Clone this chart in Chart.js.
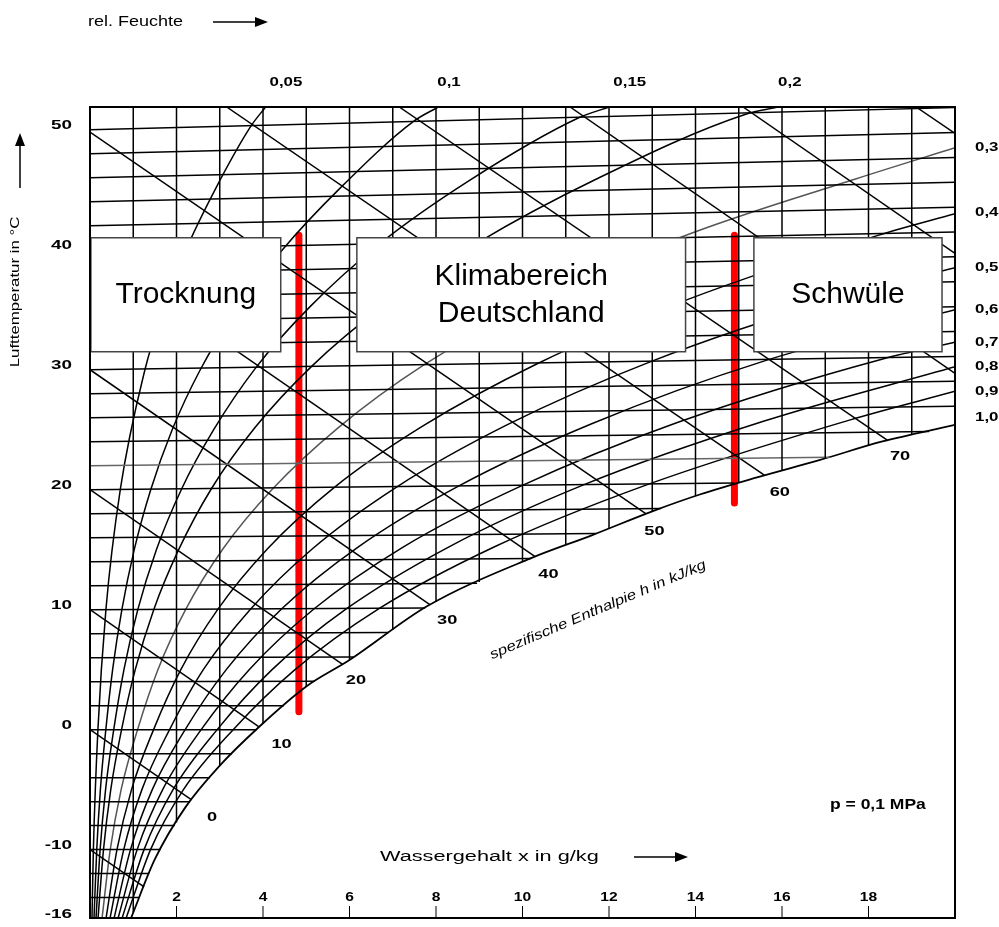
<!DOCTYPE html>
<html>
<head>
<meta charset="utf-8">
<script src="https://cdn.jsdelivr.net/npm/chart.js@4.4.1/dist/chart.umd.min.js"></script>
<style>
  html, body { margin: 0; padding: 0; background: #fff; }
  #wrap { width: 999px; height: 927px; }
</style>
</head>
<body>
<div id="wrap"><canvas id="hx"></canvas></div>
<script>
// axis range: water content x in g/kg, temperature in °C
const xMin = 0, xMax = 20;
const yMin = -15.7, yMax = 51.9;

const yTickValues = [-15.7, -10, 0, 10, 20, 30, 40, 50];
const yTickLabels = ['-16', '-10', '0', '10', '20', '30', '40', '50'];
const xTickValues = [2, 4, 6, 8, 10, 12, 14, 16, 18];

// saturation line (phi = 1.0) as [x, T]
const saturation = [[0.95, -15.7], [1.5, -10.8], [2.2, -6.5], [3.0, -3], [3.9, 0.2], [5.0, 3.6], [6.0, 5.8],
  [7.8, 10.3], [10.2, 14.3], [11.6, 16.2], [13.0, 18.2], [14.1, 19.6], [15.4, 21.0], [16.9, 22.5], [18.3, 24.0], [20, 25.4]];

// relative humidity lines
const rh005 = [[0.046, -15.7], [0.078, -10], [0.183, 0], [0.368, 10], [0.70, 20], [1.27, 30], [1.69, 35], [2.22, 40], [2.89, 45], [3.72, 50.3], [4.06, 51.9]];
const rh01 = [[0.093, -15.7], [0.156, -10], [0.24, -5], [0.366, 0], [0.523, 5], [0.737, 10], [1.023, 15], [1.404, 20], [1.90, 25], [2.55, 30], [3.39, 35], [4.45, 40], [5.80, 45.2], [7.48, 50.7], [8.05, 51.9]];
const rh015 = [[0.139, -15.7], [0.234, -10], [0.36, -5], [0.549, 0], [0.785, 5], [1.105, 10], [1.535, 15], [2.11, 20], [2.86, 25], [3.84, 30.2], [5.10, 35.3], [6.70, 40.5], [8.74, 45.7], [11.30, 51.0], [12.0, 51.9]];
const rh02 = [[0.186, -15.7], [0.312, -10], [0.48, -5], [0.73, 0], [1.046, 5], [1.474, 10], [2.05, 15], [2.81, 20.1], [3.82, 25.2], [5.13, 30.3], [6.81, 35.4], [8.97, 40.6], [11.71, 45.9], [15.16, 51.3], [15.9, 51.9]];
const rh03 = [[0.279, -15.7], [0.468, -10], [0.72, -5], [1.10, 0], [1.57, 5], [2.21, 10], [3.08, 15.1], [4.23, 20.1], [5.75, 25.2], [7.72, 30.4], [10.28, 35.6], [13.56, 40.9], [17.7, 45.9], [20, 48.5]];
const rh04 = [[0.372, -15.7], [0.624, -10], [0.96, -5], [1.47, 0], [2.10, 5], [2.95, 10], [4.11, 15.1], [5.65, 20.2], [7.69, 25.3], [10.34, 30.5], [13.78, 35.8], [18.22, 41.2], [20, 43.0]];
const rh05 = [[0.464, -15.7], [0.78, -10], [1.20, -5], [1.84, 0], [2.62, 5], [3.70, 10], [5.15, 15.1], [7.08, 20.2], [9.64, 25.4], [12.98, 30.7], [17.33, 36.0], [20, 38.5]];
const rh06 = [[0.557, -15.7], [0.936, -10], [1.44, -5], [2.20, 0], [3.15, 5], [4.44, 10.1], [6.19, 15.2], [8.52, 20.3], [11.60, 25.5], [15.65, 30.8], [20, 35.0]];
const rh07 = [[0.65, -15.7], [1.09, -10], [1.68, -5], [2.57, 0], [3.68, 5], [5.19, 10.1], [7.23, 15.2], [9.96, 20.3], [13.58, 25.6], [18.33, 30.9], [20, 32.3]];
const rh08 = [[0.743, -15.7], [1.25, -10], [1.92, -5], [2.94, 0], [4.21, 5], [5.94, 10.1], [8.28, 15.2], [11.41, 20.4], [15.57, 25.7], [20, 30.25]];
const rh09 = [[0.836, -15.7], [1.40, -10], [2.16, -5], [3.31, 0], [4.74, 5], [6.69, 10.1], [9.33, 15.2], [12.87, 20.4], [17.56, 25.8], [20, 28.2]];

// labels of the humidity lines: along the top (x) and on the right (T)
const topLabels = ['0,05', '0,1', '0,15', '0,2'];
const topLabelX = [4.53, 8.3, 12.48, 16.18];
const rightLabels = ['0,3', '0,4', '0,5', '0,6', '0,7', '0,8', '0,9', '1,0'];
const rightLabelT = [48.5, 43.1, 38.5, 35.0, 32.3, 30.25, 28.2, 26.0];

// isotherms every 2 °C, start at x = 0, end at saturation or right edge
const isoT = [-14, -12, -10, -8, -6, -4, -2, 0, 2, 4, 6, 8, 10, 12, 14, 16, 18, 20, 22, 24, 26, 28, 30, 32, 34, 36, 38, 40, 42, 44, 46, 48, 50];
const isoEndX = [1.14, 1.37, 1.63, 1.96, 2.31, 2.77, 3.28, 3.85, 4.48, 5.2, 6.1, 6.9, 7.75, 8.95, 10.2, 11.7, 13.2, 14.9, 17.1, 19.4, 20, 20, 20, 20, 20, 20, 20, 20, 20, 20, 20, 20, 20];
const isoEndT = [-14, -12, -10, -8, -6, -4, -2, 0, 2.0, 4.03, 6.05, 8.1, 10.15, 12.2, 14.26, 16.34, 18.43, 20.55, 22.7, 24.86, 26.96, 29.04, 31.11, 33.18, 35.26, 37.33, 39.41, 41.48, 43.55, 45.63, 47.7, 49.78, 51.85];

// lines of constant water content (every 1 g/kg) down to saturation
const gridX = [1, 2, 3, 4, 5, 6, 7, 8, 9, 10, 11, 12, 13, 14, 15, 16, 17, 18, 19];
const gridSatT = [-15.25, -7.73, -3.0, 0.51, 3.6, 5.8, 8.3, 10.63, 12.3, 13.97, 15.39, 16.77, 18.2, 19.47, 20.57, 21.6, 22.6, 23.7, 24.58];

// enthalpy lines (kJ/kg): start and end points [x, T]
const hValues = [-10, 0, 10, 20, 30, 40, 50, 60, 70, 80, 90, 100];
const hStart = [[0, -10], [0, 0], [0, 10], [0, 20], [0, 30], [0, 40], [0, 49.8], [3.16, 51.9], [7.15, 51.9], [11.1, 51.9], [15.1, 51.9], [19.1, 51.9]];
const hEnd = [[1.25, -13.1], [2.35, -5.85], [3.9, 0.25], [5.84, 5.45], [7.85, 10.45], [10.3, 14.4], [12.85, 18.0], [15.6, 21.2], [18.45, 24.1], [20, 29.7], [20, 39.7], [20, 49.7]];
const hLabels = ['0', '10', '20', '30', '40', '50', '60', '70'];
const hLabelX = [2.82, 4.43, 6.15, 8.26, 10.6, 13.05, 15.95, 18.73];
const hLabelT = [-7.3, -1.25, 4.1, 9.1, 12.9, 16.5, 19.8, 22.75];

// climate ranges (red limits) and region boxes
const redLeft = [[4.83, 41.2], [4.83, 1.5]];
const redRight = [[14.9, 41.2], [14.9, 18.9]];
const regionNames = [['Trocknung'], ['Klimabereich', 'Deutschland'], ['Schwüle']];
const regionX0 = [0.02, 6.17, 15.35];
const regionX1 = [4.41, 13.77, 19.7];
const regionT0 = 31.5, regionT1 = 41.0;

const FONT = '"Liberation Sans", Arial, sans-serif';

function pts(arr) { return arr.map(p => ({ x: p[0], y: p[1] })); }

function lineSet(arr, color, width, curved) {
  return {
    data: pts(arr),
    borderColor: color,
    borderWidth: width,
    pointRadius: 0,
    showLine: true,
    fill: false,
    tension: 0,
    cubicInterpolationMode: curved ? 'monotone' : 'default'
  };
}

const datasets = [];
gridX.forEach((x, i) => datasets.push(lineSet([[x, yMax], [x, gridSatT[i]]], '#000', 1.5, false)));
isoT.forEach((t, i) => datasets.push(lineSet([[0, t], [isoEndX[i], isoEndT[i]]], t === 22 ? '#666' : '#000', 1.5, false)));
hValues.forEach((h, i) => datasets.push(lineSet([hStart[i], hEnd[i]], '#000', 1.5, false)));
[rh005, rh01, rh015, rh02, rh03, rh04, rh05, rh06, rh07, rh08, rh09].forEach(c =>
  datasets.push(lineSet(c, c === rh03 ? '#555' : '#000', 1.5, true)));
datasets.push(lineSet(saturation, '#000', 1.8, true));
[redLeft, redRight].forEach(r => {
  const d = lineSet(r, '#ff0000', 7, false);
  d.borderCapStyle = 'round';
  d.clip = false;
  datasets.push(d);
});

// text stretched horizontally by sx (the scanned labels are wide)
function txt(ctx, s, x, y, font, sx, align) {
  ctx.save();
  ctx.font = font;
  ctx.textBaseline = 'middle';
  ctx.textAlign = align || 'center';
  ctx.translate(x, y);
  ctx.scale(sx, 1);
  ctx.fillText(s, 0, 0);
  ctx.restore();
}

function arrow(ctx, x0, y0, x1, y1) {
  const a = Math.atan2(y1 - y0, x1 - x0);
  ctx.beginPath();
  ctx.moveTo(x0, y0);
  ctx.lineTo(x1 - 10 * Math.cos(a), y1 - 10 * Math.sin(a));
  ctx.lineWidth = 1.5;
  ctx.strokeStyle = '#000';
  ctx.stroke();
  ctx.beginPath();
  ctx.moveTo(x1, y1);
  ctx.lineTo(x1 - 13 * Math.cos(a) + 5 * Math.sin(a), y1 - 13 * Math.sin(a) - 5 * Math.cos(a));
  ctx.lineTo(x1 - 13 * Math.cos(a) - 5 * Math.sin(a), y1 - 13 * Math.sin(a) + 5 * Math.cos(a));
  ctx.closePath();
  ctx.fillStyle = '#000';
  ctx.fill();
}

const overlay = {
  id: 'overlay',
  afterDatasetsDraw(chart) {
    const { ctx, scales: { x, y } } = chart;
    ctx.save();
    regionNames.forEach((lines, i) => {
      const l = x.getPixelForValue(regionX0[i]), r = x.getPixelForValue(regionX1[i]);
      const t = y.getPixelForValue(regionT1), b = y.getPixelForValue(regionT0);
      ctx.fillStyle = '#fff';
      ctx.fillRect(l, t, r - l, b - t);
      ctx.strokeStyle = '#444';
      ctx.lineWidth = 1.5;
      ctx.strokeRect(l, t, r - l, b - t);
      ctx.fillStyle = '#000';
      const cx = (l + r) / 2, cy = (t + b) / 2;
      lines.forEach((s, k) => txt(ctx, s, cx, cy + (k - (lines.length - 1) / 2) * 37, '30px ' + FONT, 1, 'center'));
    });
    ctx.restore();
  },
  afterDraw(chart) {
    const { ctx, chartArea: a, scales: { x, y } } = chart;
    ctx.save();
    ctx.strokeStyle = '#000';
    ctx.lineWidth = 2;
    ctx.strokeRect(a.left, a.top, a.right - a.left, a.bottom - a.top);
    ctx.fillStyle = '#000';

    const num = 'bold 13px ' + FONT;
    // y tick labels
    yTickValues.forEach((v, i) => txt(ctx, yTickLabels[i], 72, y.getPixelForValue(v) - 4, num, 1.45, 'right'));
    // x ticks inside the plot
    xTickValues.forEach(v => {
      const px = x.getPixelForValue(v);
      ctx.lineWidth = 1;
      ctx.beginPath();
      ctx.moveTo(px, a.bottom);
      ctx.lineTo(px, a.bottom - 12);
      ctx.stroke();
      txt(ctx, String(v), px, a.bottom - 21, num, 1.2, 'center');
    });
    topLabels.forEach((s, i) => txt(ctx, s, x.getPixelForValue(topLabelX[i]), 82, num, 1.3, 'center'));
    rightLabels.forEach((s, i) => txt(ctx, s, a.right + 20, y.getPixelForValue(rightLabelT[i]), num, 1.3, 'left'));
    hLabels.forEach((s, i) => txt(ctx, s, x.getPixelForValue(hLabelX[i]), y.getPixelForValue(hLabelT[i]), num, 1.4, 'center'));

    // enthalpy title along the saturation line
    ctx.save();
    ctx.translate(598, 610);
    ctx.rotate(-23 * Math.PI / 180);
    txt(ctx, 'spezifische Enthalpie h in kJ/kg', 0, 0, 'italic 14px ' + FONT, 1.2, 'center');
    ctx.restore();

    txt(ctx, 'rel. Feuchte', 88, 22, '15px ' + FONT, 1.2, 'left');
    arrow(ctx, 213, 22, 268, 22);
    txt(ctx, 'Wassergehalt x in g/kg', 380, 857, '14px ' + FONT, 1.55, 'left');
    arrow(ctx, 634, 857, 688, 857);
    txt(ctx, 'p = 0,1 MPa', 830, 805, 'bold 14px ' + FONT, 1.25, 'left');

    ctx.save();
    ctx.translate(16, 292);
    ctx.rotate(-Math.PI / 2);
    txt(ctx, 'Lufttemperatur in °C', 0, 0, '12px ' + FONT, 1.4, 'center');
    ctx.restore();
    arrow(ctx, 20, 188, 20, 133);
    ctx.restore();
  }
};

new Chart(document.getElementById('hx'), {
  type: 'scatter',
  data: { datasets: datasets },
  options: {
    responsive: true,
    maintainAspectRatio: false,
    animation: false,
    events: [],
    layout: { padding: { top: 107, right: 44, bottom: 9, left: 90 } },
    plugins: { legend: { display: false }, tooltip: { enabled: false } },
    scales: {
      x: { type: 'linear', min: xMin, max: xMax, display: false },
      y: { type: 'linear', min: yMin, max: yMax, display: false }
    }
  },
  plugins: [overlay]
});
</script>
</body>
</html>
